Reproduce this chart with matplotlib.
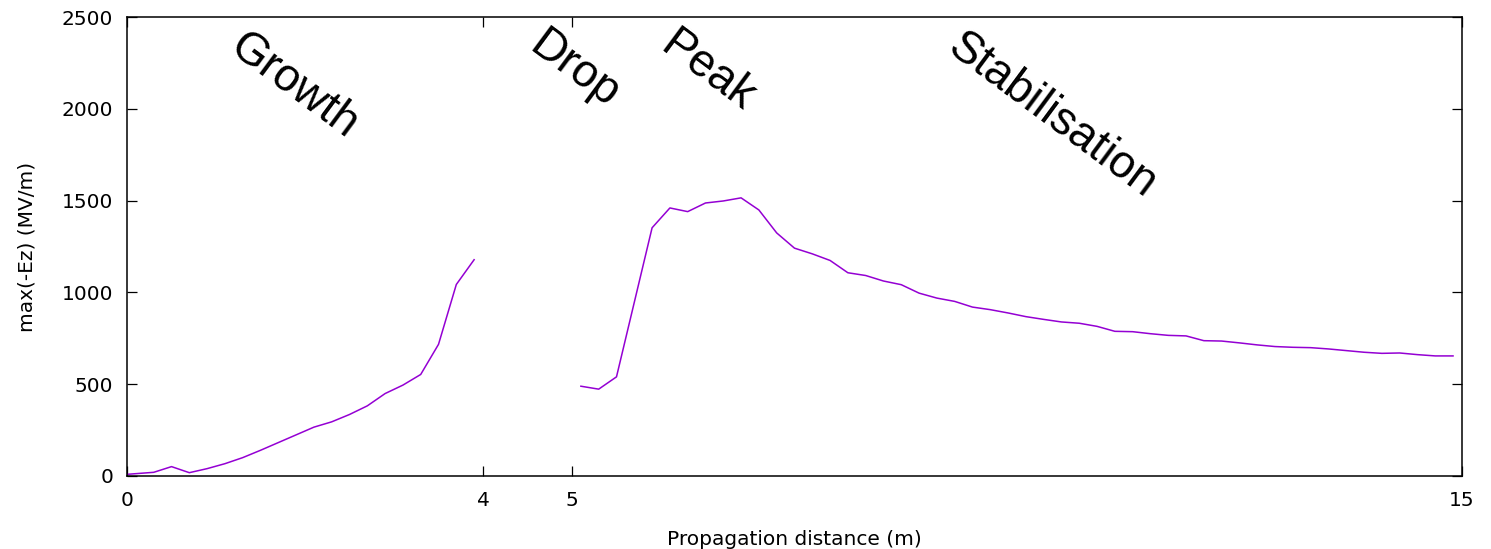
import numpy as np
import matplotlib
matplotlib.use("Agg")
import matplotlib.pyplot as plt

# Champ max(-Ez) le long de la propagation, deux segments mesures.
dist_a = [0.0, 0.3, 0.5, 0.7, 0.9, 1.1, 1.3, 1.5, 1.7, 1.9, 2.1, 2.3, 2.5,
          2.7, 2.9, 3.1, 3.3, 3.5, 3.7, 3.9]
ez_a = [9, 20, 51, 18, 40, 67, 100, 140, 182, 224, 266, 295, 335,
        382, 449, 495, 553, 717, 1043, 1178]

dist_b = [5.1, 5.3, 5.5, 5.7, 5.9, 6.1, 6.3, 6.5, 6.7, 6.9, 7.1, 7.3, 7.5,
          7.7, 7.9, 8.1, 8.3, 8.5, 8.7, 8.9, 9.1, 9.3, 9.5, 9.7, 9.9, 10.1,
          10.3, 10.5, 10.7, 10.9, 11.1, 11.3, 11.5, 11.7, 11.9, 12.1, 12.3,
          12.5, 12.7, 12.9, 13.1, 13.3, 13.5, 13.7, 13.9, 14.1, 14.3, 14.5,
          14.7, 14.9]
ez_b = [489, 473, 540, 946, 1352, 1460, 1440, 1487, 1498, 1515, 1449, 1324,
        1241, 1210, 1174, 1107, 1092, 1062, 1042, 996, 969, 951, 920, 906,
        888, 868, 853, 839, 832, 815, 788, 786, 775, 766, 763, 737, 735, 725,
        714, 705, 701, 699, 692, 683, 674, 668, 670, 661, 654, 654]

xticks = [0, 4, 5, 15]
yticks = [0, 500, 1000, 1500, 2000, 2500]

phases = ["Growth", "Drop", "Peak", "Stabilisation"]
phase_x = [1.88, 5.03, 6.52, 10.40]
phase_y = [2125, 2215, 2205, 1960]

plt.rcParams.update({"font.family": "DejaVu Sans", "font.size": 14.5})

fig = plt.figure(figsize=(14.91, 5.49), dpi=100)
ax = fig.add_axes([0.0852, 0.133, 0.8953, 0.836])

col = "#9400D3"
ax.plot(dist_a, ez_a, color=col, lw=1.1)
ax.plot(dist_b, ez_b, color=col, lw=1.1)

for name, px, py in zip(phases, phase_x, phase_y):
    ax.text(px, py, name, rotation=-36.5, rotation_mode="anchor",
            ha="center", va="center", fontsize=33, family="Liberation Sans")

ax.set_xlim(0, 15)
ax.set_ylim(0, 2500)
ax.set_xticks(xticks)
ax.set_yticks(yticks)
ax.tick_params(direction="in", length=7, width=0.9, top=True, right=True)
ax.tick_params(axis="x", pad=11)
ax.tick_params(axis="y", pad=10)
for s in ax.spines.values():
    s.set_linewidth(1.1)

ax.set_xlabel("Propagation distance (m)", labelpad=14)
ax.set_ylabel("max(-Ez) (MV/m)", labelpad=18)

fig.savefig("out.png", dpi=100)
